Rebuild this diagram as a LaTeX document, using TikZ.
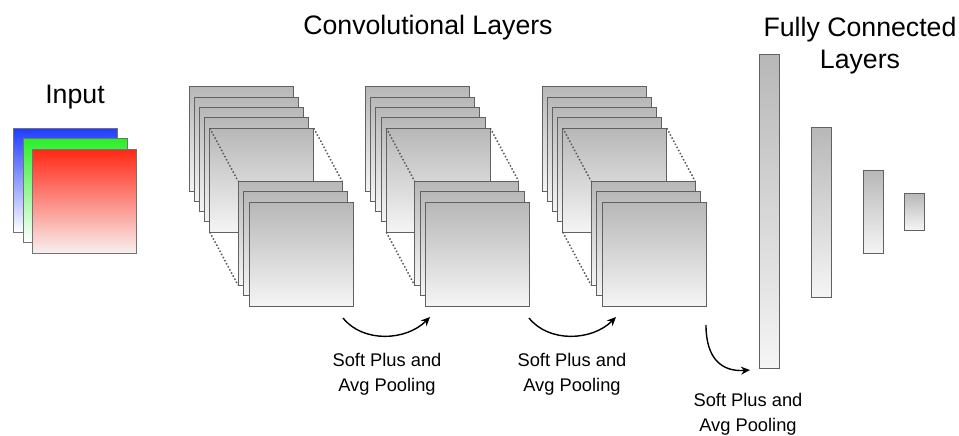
\documentclass[tikz,border=0pt]{standalone}
\usepackage{fontspec}
\setmainfont{Liberation Sans}
\usetikzlibrary{arrows.meta}
\tikzstyle{plate}=[draw=black!62, line width=1pt, top color=black!28, bottom color=black!4,
  minimum width=104pt, minimum height=104pt, anchor=north west, inner sep=0pt, outer sep=0pt]
\tikzstyle{fcbar}=[plate, anchor=center, minimum width=20pt]
\tikzstyle{chan}=[plate, draw=black!55]
\tikzstyle{title}=[font=\fontsize{26.7}{32}\selectfont, align=center]
\tikzstyle{note}=[font=\fontsize{18.3}{25}\selectfont, align=center]
\tikzstyle{link}=[dotted, line width=1.5pt, black!65]
\tikzstyle{step arrow}=[->, >={Stealth[length=9pt,width=8pt]}, line width=1.4pt]

\begin{document}
\begin{tikzpicture}[x=1pt, y=-1pt]
  \useasboundingbox (0,0) rectangle (959,436);

  % input image
  \node[title] (input) at (75,97) {Input};
  \node[chan, top color={rgb,255:red,30;green,60;blue,255}, bottom color=white]
    (blue) at (13,128) {};
  \node[chan, top color={rgb,255:red,40;green,240;blue,40}, bottom color=white]
    (green) at (23,138) {};
  \node[chan, top color={rgb,255:red,255;green,40;blue,20}, bottom color={rgb,255:red,248;green,240;blue,240}]
    (red) at (32,149) {};

  % convolutional blocks
  \node[title] (conv) at (428,28) {Convolutional Layers};
  \foreach \b/\bx in {1/0, 2/176.5, 3/353} {
    \foreach \i in {1,...,5}
      \node[plate] (b\b-\i) at ({189+\bx+5.2*(\i-1)}, {87+10.3*(\i-1)}) {};
    \foreach \j in {1,2,3}
      \node[plate] (f\b-\j) at ({238+\bx+5.5*(\j-1)}, {181+10.5*(\j-1)}) {};
    \draw[link] (b\b-5.north west) -- (f\b-1.north west);
    \draw[link] (b\b-5.north east) -- (f\b-1.north east);
    \draw[link] (b\b-5.south west) -- (f\b-1.south west);
  }

  % fully connected
  \node[title] (fc) at (860,46) {Fully Connected\\Layers};
  \node[fcbar, minimum height=313pt] (fc1) at (769,211.5) {};
  \node[fcbar, minimum height=170pt] (fc2) at (821,212) {};
  \node[fcbar, minimum height=83pt]  (fc3) at (873,211.5) {};
  \node[fcbar, minimum height=37pt]  (fc4) at (914,211.5) {};

  % pooling steps
  \coordinate (p1s) at (343,318);
  \coordinate (p1e) at (430,317);
  \coordinate (p2s) at (529,318);
  \coordinate (p2e) at (616,317);
  \coordinate (p3s) at (706,325);
  \coordinate (p3e) at (750,370);
  \draw[step arrow] (p1s) .. controls +(20,25) and +(-24,24) .. (p1e);
  \draw[step arrow] (p2s) .. controls +(20,25) and +(-24,24) .. (p2e);
  \draw[step arrow] (p3s) .. controls +(0,34) and +(-28,2) .. (p3e);
  \node[note] (pool1) at (387,374.5) {Soft Plus and\\Avg Pooling};
  \node[note] (pool2) at (572,374.5) {Soft Plus and\\Avg Pooling};
  \node[note] (pool3) at (748,414) {Soft Plus and\\Avg Pooling};
\end{tikzpicture}
\end{document}
